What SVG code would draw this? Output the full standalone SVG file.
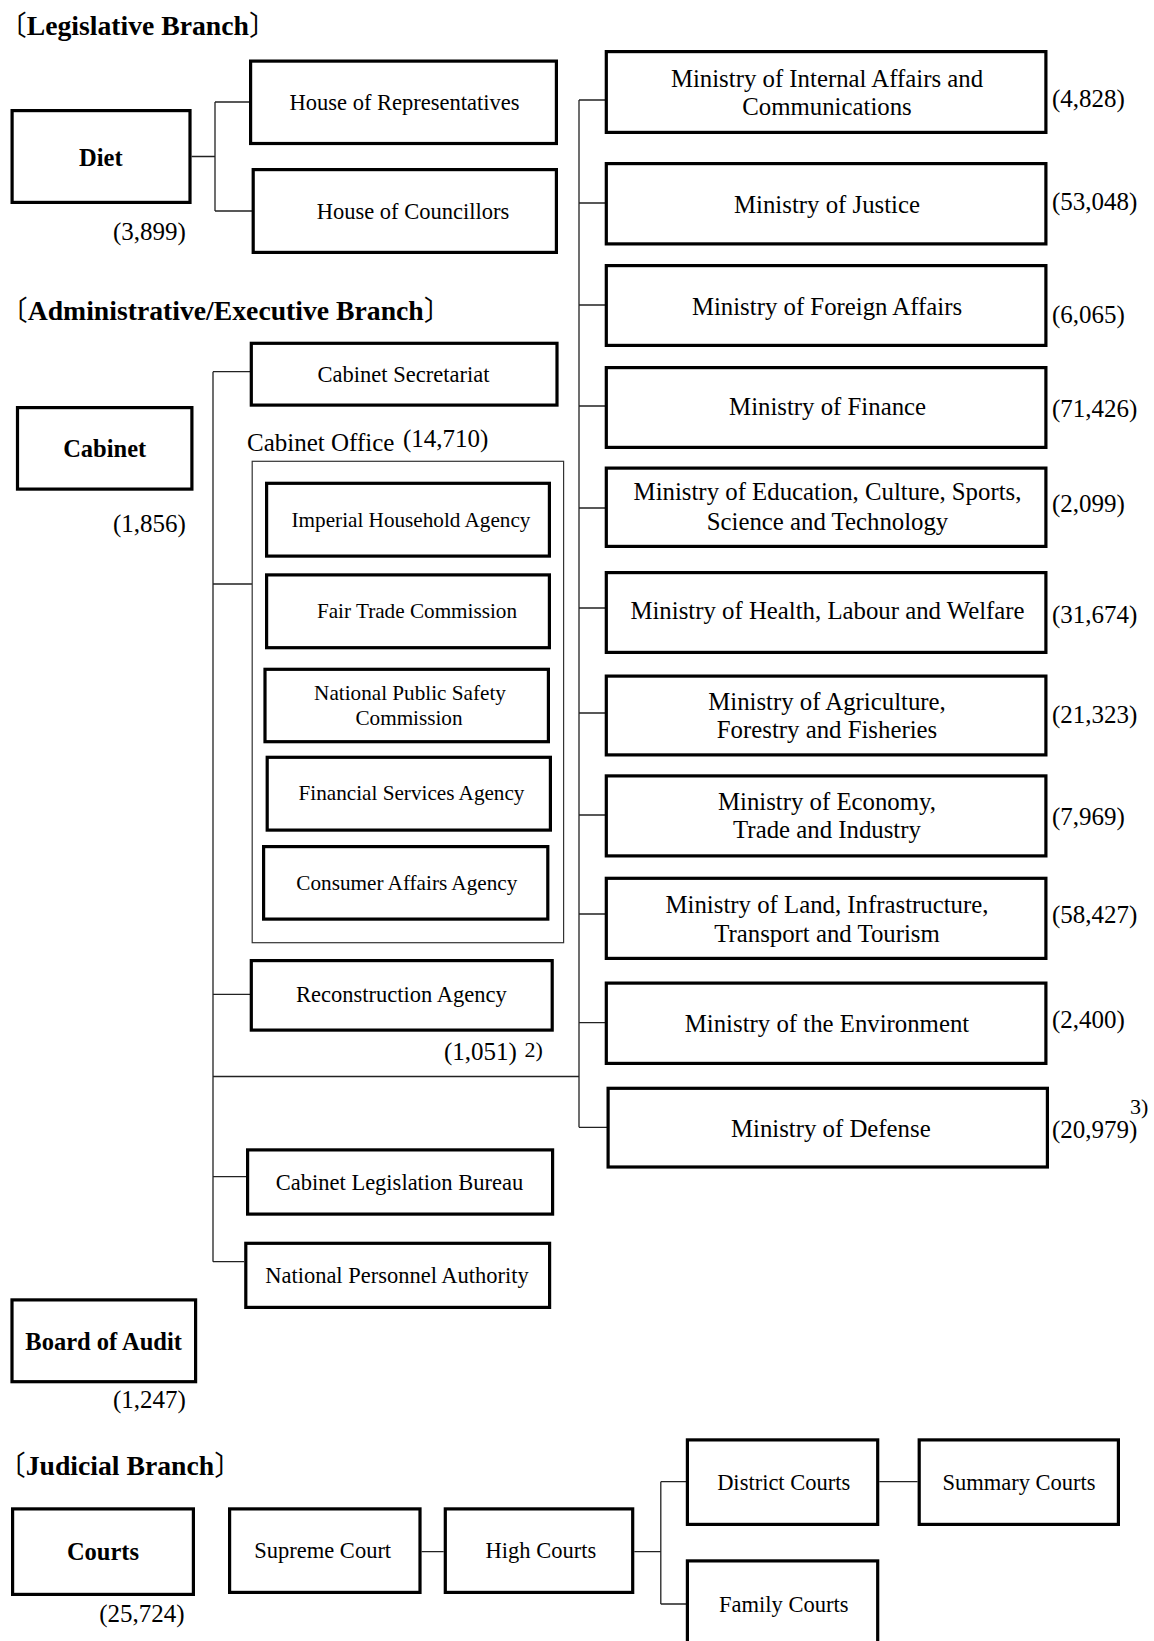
<svg xmlns="http://www.w3.org/2000/svg" width="1154" height="1641" viewBox="0 0 1154 1641">
<style>
.bx{fill:#fff;stroke:#000;stroke-width:3.2}
.thin{fill:none;stroke:#333;stroke-width:1.2}
.cn{fill:none;stroke:#222;stroke-width:1.3}
text{font-family:"Liberation Serif","Noto Sans CJK JP",serif;fill:#000}
.ttl{font-size:27.7px;font-weight:bold}
.br{font-weight:normal}
.bl{font-size:24.5px;font-weight:bold;text-anchor:middle}
.s{font-size:22.5px;text-anchor:middle}
.a{font-size:21.2px;text-anchor:middle}
.m{font-size:24.8px;text-anchor:middle}
.n{font-size:25px}
.fn{font-size:22px}
</style>

<text class="ttl" x="-1" y="35"><tspan class="br">〔</tspan>Legislative Branch<tspan class="br">〕</tspan></text>
<text class="ttl" x="0" y="320"><tspan class="br">〔</tspan>Administrative/Executive Branch<tspan class="br">〕</tspan></text>
<text class="ttl" x="-2" y="1475"><tspan class="br">〔</tspan>Judicial Branch<tspan class="br">〕</tspan></text>

<g id="connectors">
<path class="cn" d="M191.6 156.5H215M215 102V211M215 102H250M215 211H252"/>
<path class="cn" d="M213 371.7V1261.7M213 371.7H250M213 584H252M213 994.3H250M213 1076.5H579M213 1176.7H246M213 1261.7H244"/>
<path class="cn" d="M579 100V1127.3M579 100H605M579 203H605M579 305H605M579 406H605M579 508H605M579 608H605M579 713H605M579 815H605M579 914H605M579 1022.7H605M579 1127.3H607"/>
<path class="cn" d="M421.6 1551.7H443.7M634.3 1551.7H660.8M660.8 1481.7V1604M660.8 1481.7H686M660.8 1604H686M879.3 1481.7H917.6"/>
</g>

<g id="diet"><rect class="bx" x="12.1" y="110.6" width="177.9" height="91.8"/><text class="bl" x="100.8" y="166">Diet</text><text class="n" x="113" y="240">(3,899)</text></g>
<g id="house-of-representatives"><rect class="bx" x="250.6" y="61.1" width="305.8" height="82.4"/><text class="s" x="404.5" y="110">House of Representatives</text></g>
<g id="house-of-councillors"><rect class="bx" x="253.2" y="169.6" width="303.2" height="82.8"/><text class="s" x="413" y="219">House of Councillors</text></g>

<g id="cabinet"><rect class="bx" x="17.5" y="407.6" width="174.4" height="81.5"/><text class="bl" x="104.7" y="456.7">Cabinet</text><text class="n" x="113" y="531.7">(1,856)</text></g>
<g id="cabinet-secretariat"><rect class="bx" x="251.3" y="343.3" width="305.7" height="61.8"/><text class="s" x="403.5" y="381.7">Cabinet Secretariat</text></g>
<g id="cabinet-office"><rect class="thin" x="252.2" y="461.3" width="311.4" height="481.4"/><text class="n" x="247" y="450.7">Cabinet Office</text><text class="n" x="403" y="446.7">(14,710)</text></g>
<g id="imperial-household-agency"><rect class="bx" x="266.6" y="483.3" width="282.8" height="72.8"/><text class="a" x="411" y="526.7">Imperial Household Agency</text></g>
<g id="fair-trade-commission"><rect class="bx" x="266.6" y="574.9" width="282.8" height="72.8"/><text class="a" x="417" y="618.3">Fair Trade Commission</text></g>
<g id="national-public-safety-commission"><rect class="bx" x="265" y="669.3" width="283.4" height="72.4"/><text class="a" x="410" y="700">National Public Safety</text><text class="a" x="409" y="725">Commission</text></g>
<g id="financial-services-agency"><rect class="bx" x="267.2" y="757.3" width="283.2" height="72.8"/><text class="a" x="411.5" y="800">Financial Services Agency</text></g>
<g id="consumer-affairs-agency"><rect class="bx" x="263.6" y="846.6" width="284.2" height="72.5"/><text class="a" x="406.8" y="890">Consumer Affairs Agency</text></g>
<g id="reconstruction-agency"><rect class="bx" x="251.3" y="960.6" width="300.9" height="69.5"/><text class="s" x="401.4" y="1001.7">Reconstruction Agency</text><text class="n" x="444" y="1060">(1,051)</text><text class="fn" x="524.6" y="1056.7">2)</text></g>
<g id="cabinet-legislation-bureau"><rect class="bx" x="247.6" y="1149.9" width="305" height="64.2"/><text class="s" x="399.5" y="1190">Cabinet Legislation Bureau</text></g>
<g id="national-personnel-authority"><rect class="bx" x="245.8" y="1243.3" width="303.8" height="64.1"/><text class="s" x="397" y="1283.3">National Personnel Authority</text></g>
<g id="board-of-audit"><rect class="bx" x="12" y="1299.9" width="183.6" height="81.8"/><text class="bl" x="103.6" y="1350">Board of Audit</text><text class="n" x="113" y="1408.3">(1,247)</text></g>

<g id="miac"><rect class="bx" x="606.3" y="51.6" width="439.6" height="80.8"/><text class="m" x="827" y="87">Ministry of Internal Affairs and</text><text class="m" x="827" y="115">Communications</text><text class="n" x="1052" y="107">(4,828)</text></g>
<g id="justice"><rect class="bx" x="606.3" y="163.6" width="439.6" height="80.3"/><text class="m" x="827" y="213">Ministry of Justice</text><text class="n" x="1052" y="210">(53,048)</text></g>
<g id="foreign-affairs"><rect class="bx" x="606.3" y="265.6" width="439.6" height="79.8"/><text class="m" x="827" y="315">Ministry of Foreign Affairs</text><text class="n" x="1052" y="323">(6,065)</text></g>
<g id="finance"><rect class="bx" x="606.3" y="367.6" width="439.6" height="79.8"/><text class="m" x="827.6" y="415">Ministry of Finance</text><text class="n" x="1052" y="417">(71,426)</text></g>
<g id="mext"><rect class="bx" x="606.3" y="468.1" width="439.6" height="78.3"/><text class="m" x="827.5" y="500">Ministry of Education, Culture, Sports,</text><text class="m" x="827.5" y="530">Science and Technology</text><text class="n" x="1052" y="512">(2,099)</text></g>
<g id="mhlw"><rect class="bx" x="606.3" y="572.6" width="439.6" height="79.8"/><text class="m" x="827.5" y="619">Ministry of Health, Labour and Welfare</text><text class="n" x="1052" y="623">(31,674)</text></g>
<g id="maff"><rect class="bx" x="606.3" y="676.1" width="439.6" height="78.8"/><text class="m" x="827" y="710">Ministry of Agriculture,</text><text class="m" x="827" y="738">Forestry and Fisheries</text><text class="n" x="1052" y="723">(21,323)</text></g>
<g id="meti"><rect class="bx" x="606.3" y="775.9" width="439.6" height="80"/><text class="m" x="827" y="810">Ministry of Economy,</text><text class="m" x="827" y="838.3">Trade and Industry</text><text class="n" x="1052" y="825">(7,969)</text></g>
<g id="mlit"><rect class="bx" x="606.3" y="878.3" width="439.6" height="80.1"/><text class="m" x="827" y="912.7">Ministry of Land, Infrastructure,</text><text class="m" x="827" y="941.7">Transport and Tourism</text><text class="n" x="1052" y="923.3">(58,427)</text></g>
<g id="environment"><rect class="bx" x="606.3" y="983.1" width="439.6" height="80.3"/><text class="m" x="827" y="1031.7">Ministry of the Environment</text><text class="n" x="1052" y="1028.3">(2,400)</text></g>
<g id="defense"><rect class="bx" x="608.1" y="1088.3" width="439.3" height="78.7"/><text class="m" x="830.8" y="1136.7">Ministry of Defense</text><text class="n" x="1052" y="1138.3">(20,979)</text><text class="fn" x="1130" y="1114">3)</text></g>

<g id="courts"><rect class="bx" x="12.6" y="1508.9" width="180.8" height="85.5"/><text class="bl" x="103" y="1560">Courts</text><text class="n" x="99.3" y="1621.7">(25,724)</text></g>
<g id="supreme-court"><rect class="bx" x="229.6" y="1508.9" width="190.4" height="83.5"/><text class="s" x="322.7" y="1558.3">Supreme Court</text></g>
<g id="high-courts"><rect class="bx" x="445.3" y="1508.9" width="187.4" height="83.5"/><text class="s" x="540.9" y="1558.3">High Courts</text></g>
<g id="district-courts"><rect class="bx" x="687.4" y="1439.9" width="190.3" height="84.5"/><text class="s" x="783.7" y="1490">District Courts</text></g>
<g id="summary-courts"><rect class="bx" x="919.2" y="1439.9" width="199.2" height="84.5"/><text class="s" x="1019" y="1490">Summary Courts</text></g>
<g id="family-courts"><rect class="bx" x="687.4" y="1560.9" width="190.3" height="100"/><text class="s" x="783.7" y="1611.7">Family Courts</text></g>
</svg>
